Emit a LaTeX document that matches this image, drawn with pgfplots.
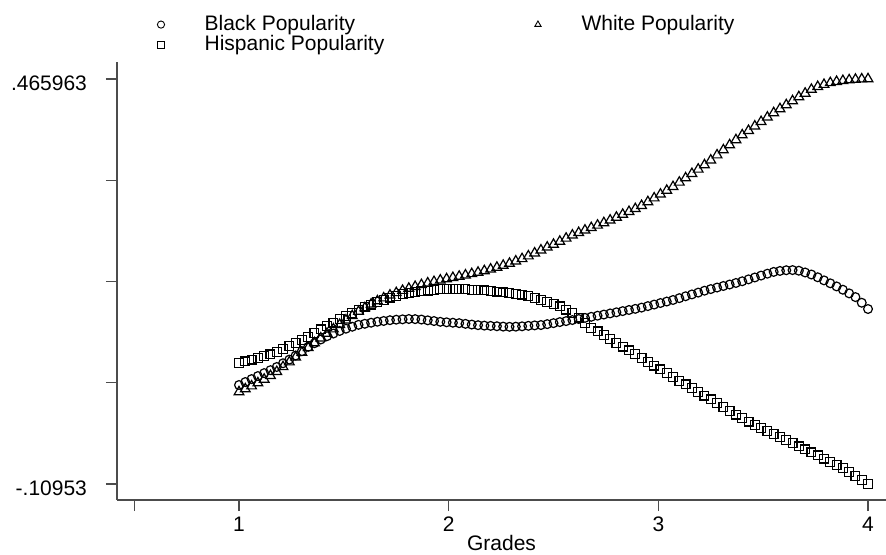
\documentclass[border=0pt]{standalone}
\usepackage{fontspec}
\setmainfont{Liberation Sans}
\usepackage{pgfplots}
\usepackage{pgfplotstable}
\pgfplotsset{compat=1.18}

% popularity by grade
\pgfplotstableread{
x y
1.00 .0311
1.03 .0353
1.06 .0395
1.09 .0438
1.12 .0480
1.15 .0522
1.18 .0567
1.21 .0620
1.24 .0672
1.27 .0730
1.30 .0791
1.33 .0853
1.36 .0905
1.39 .0958
1.42 .1005
1.45 .1042
1.48 .1079
1.51 .1111
1.54 .1139
1.57 .1166
1.60 .1181
1.63 .1196
1.66 .1210
1.69 .1221
1.72 .1232
1.75 .1239
1.78 .1244
1.81 .1249
1.84 .1247
1.87 .1241
1.90 .1230
1.93 .1220
1.96 .1209
1.99 .1202
2.02 .1196
2.05 .1190
2.08 .1180
2.11 .1170
2.14 .1161
2.17 .1155
2.20 .1151
2.23 .1146
2.26 .1141
2.29 .1138
2.32 .1140
2.35 .1145
2.38 .1152
2.41 .1158
2.44 .1163
2.47 .1176
2.50 .1190
2.53 .1205
2.56 .1219
2.59 .1234
2.62 .1249
2.65 .1265
2.68 .1280
2.71 .1296
2.74 .1312
2.77 .1328
2.80 .1344
2.83 .1361
2.86 .1377
2.89 .1393
2.92 .1411
2.95 .1432
2.98 .1454
3.01 .1476
3.04 .1497
3.07 .1519
3.10 .1545
3.13 .1572
3.16 .1598
3.19 .1624
3.22 .1651
3.25 .1674
3.28 .1696
3.31 .1718
3.34 .1739
3.37 .1761
3.40 .1785
3.43 .1812
3.46 .1839
3.49 .1866
3.52 .1893
3.55 .1918
3.58 .1932
3.61 .1942
3.64 .1944
3.67 .1935
3.70 .1910
3.73 .1881
3.76 .1842
3.79 .1798
3.82 .1756
3.85 .1712
3.88 .1665
3.91 .1613
3.94 .1560
3.97 .1480
4.00 .1391
}\tblack

\pgfplotstableread{
x y
1.00 .0212
1.03 .0254
1.06 .0296
1.09 .0339
1.12 .0391
1.15 .0443
1.18 .0500
1.21 .0569
1.24 .0637
1.27 .0705
1.30 .0772
1.33 .0839
1.36 .0908
1.39 .0976
1.42 .1043
1.45 .1106
1.48 .1169
1.51 .1232
1.54 .1294
1.57 .1355
1.60 .1406
1.63 .1458
1.66 .1505
1.69 .1546
1.72 .1586
1.75 .1621
1.78 .1653
1.81 .1683
1.84 .1709
1.87 .1735
1.90 .1759
1.93 .1779
1.96 .1800
1.99 .1818
2.02 .1836
2.05 .1854
2.08 .1872
2.11 .1891
2.14 .1911
2.17 .1933
2.20 .1956
2.23 .1982
2.26 .2009
2.29 .2038
2.32 .2071
2.35 .2104
2.38 .2143
2.41 .2185
2.44 .2227
2.47 .2268
2.50 .2308
2.53 .2351
2.56 .2395
2.59 .2439
2.62 .2475
2.65 .2510
2.68 .2545
2.71 .2580
2.74 .2615
2.77 .2652
2.80 .2693
2.83 .2734
2.86 .2774
2.89 .2815
2.92 .2859
2.95 .2913
2.98 .2967
3.01 .3021
3.04 .3075
3.07 .3128
3.10 .3191
3.13 .3252
3.16 .3314
3.19 .3376
3.22 .3437
3.25 .3505
3.28 .3578
3.31 .3650
3.34 .3722
3.37 .3794
3.40 .3863
3.43 .3926
3.46 .3989
3.49 .4052
3.52 .4115
3.55 .4178
3.58 .4235
3.61 .4291
3.64 .4348
3.67 .4405
3.70 .4455
3.73 .4510
3.76 .4550
3.79 .4580
3.82 .4605
3.85 .4622
3.88 .4635
3.91 .4645
3.94 .4653
3.97 .4658
4.00 .4660
}\twhite

\pgfplotstableread{
x y
1.00 .0624
1.03 .0647
1.06 .0671
1.09 .0694
1.12 .0720
1.15 .0747
1.18 .0777
1.21 .0819
1.24 .0862
1.27 .0905
1.30 .0950
1.33 .0995
1.36 .1047
1.39 .1100
1.42 .1151
1.45 .1197
1.48 .1245
1.51 .1292
1.54 .1337
1.57 .1381
1.60 .1417
1.63 .1454
1.66 .1489
1.69 .1520
1.72 .1552
1.75 .1577
1.78 .1600
1.81 .1620
1.84 .1631
1.87 .1641
1.90 .1652
1.93 .1662
1.96 .1672
1.99 .1677
2.02 .1678
2.05 .1676
2.08 .1673
2.11 .1664
2.14 .1659
2.17 .1654
2.20 .1648
2.23 .1638
2.26 .1628
2.29 .1617
2.32 .1606
2.35 .1595
2.38 .1575
2.41 .1547
2.44 .1519
2.47 .1491
2.50 .1463
2.53 .1427
2.56 .1383
2.59 .1338
2.62 .1268
2.65 .1194
2.68 .1124
2.71 .1072
2.74 .1019
2.77 .0966
2.80 .0912
2.83 .0857
2.86 .0803
2.89 .0749
2.92 .0695
2.95 .0641
2.98 .0587
3.01 .0533
3.04 .0479
3.07 .0425
3.10 .0372
3.13 .0319
3.16 .0267
3.19 .0214
3.22 .0161
3.25 .0107
3.28 .0053
3.31 -.0001
3.34 -.0055
3.37 -.0110
3.40 -.0162
3.43 -.0208
3.46 -.0254
3.49 -.0299
3.52 -.0343
3.55 -.0386
3.58 -.0430
3.61 -.0474
3.64 -.0517
3.67 -.0560
3.70 -.0603
3.73 -.0646
3.76 -.0690
3.79 -.0734
3.82 -.0779
3.85 -.0825
3.88 -.0872
3.91 -.0926
3.94 -.0981
3.97 -.1037
4.00 -.1095
}\thispanic

\begin{document}
\begin{tikzpicture}[font=\fontsize{10.5}{12.6}\selectfont]
\useasboundingbox (-58.5pt,-27.5pt) rectangle (384.5pt,250pt);
\begin{axis}[
    at={(0,0)}, anchor=south west,
    scale only axis,
    width=384.5pt, height=219pt,
    xmin=0.4181, xmax=4.0858,
    ymin=-0.1323, ymax=0.4901,
    axis lines*=left,
    axis line style={black!70, line width=0.6pt},
    tick style={black!70, line width=0.6pt},
    tick align=outside,
    major tick length=5.5pt,
    xtick={0.5,1,2,3,4},
    xticklabels={,1,2,3,4},
    ytick={-0.10953,0.034343,0.178216,0.322089,0.465963},
    yticklabels={-.10953,,,,.465963},
    xtick pos=bottom, ytick pos=left,
    /pgf/number format/assume math mode=true,
    xticklabel style={anchor=base, yshift=-10pt},
    yticklabel style={xshift=-6pt, yshift=-2pt},
    xlabel={Grades},
    xlabel style={at={(axis description cs:0.5,0)}, anchor=base, yshift=-25pt, inner sep=0pt},
    every axis plot/.append style={only marks, black, line width=0.6pt},
    legend columns=2,
    legend style={
        draw=none, fill=none,
        at={(axis description cs:0,1)}, anchor=south west,
        xshift=8pt, yshift=1.5pt,
        nodes={inner sep=1pt, text height=6.8pt, text depth=1.2pt},
        /tikz/every even column/.append style={column sep=65pt},
        row sep=0pt,
    },
    legend cell align=left,
    legend image code/.code={
        \path (0pt,0pt) (31pt,0pt);
        \draw[#1, mark size=1.8pt, line width=0.45pt] plot coordinates {(10.5pt,0pt)};
    },
]
\addplot[mark=o, mark size=2.2pt] table {\tblack};
\addlegendentry{Black Popularity}
\addplot[mark=triangle, mark size=2.8pt] table {\twhite};
\addlegendentry{White Popularity}
\addplot[mark=square, mark size=2.2pt] table {\thispanic};
\addlegendentry{Hispanic Popularity}
\end{axis}
\end{tikzpicture}
\end{document}
